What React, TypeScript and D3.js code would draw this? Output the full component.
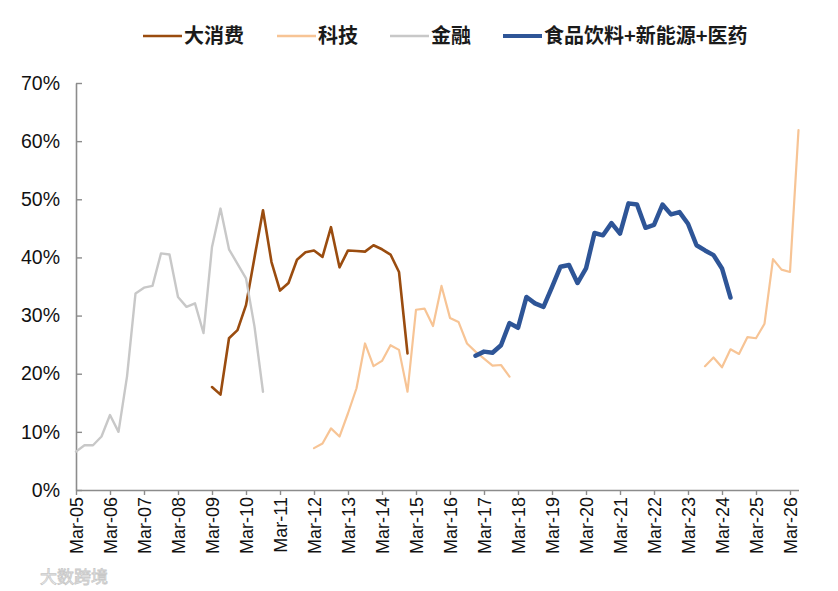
import { useEffect, useRef } from "react";
import * as d3 from "d3";

// quarterly index: 0 = Mar-05
const xTickLabels = [
  "Mar-05", "Mar-06", "Mar-07", "Mar-08", "Mar-09", "Mar-10", "Mar-11", "Mar-12",
  "Mar-13", "Mar-14", "Mar-15", "Mar-16", "Mar-17", "Mar-18", "Mar-19", "Mar-20",
  "Mar-21", "Mar-22", "Mar-23", "Mar-24", "Mar-25", "Mar-26",
];
const yTicks = [0, 10, 20, 30, 40, 50, 60, 70];

const consumerStart = 16;
const consumer = [
  17.7, 16.4, 26.1, 27.5, 31.8, 40.0, 48.1, 39.2, 34.3, 35.6, 39.6, 40.9, 41.2, 40.1, 45.2, 38.3,
  41.2, 41.1, 41.0, 42.1, 41.4, 40.5, 37.5, 23.5,
];

const techStartA = 28;
const techA = [
  7.2, 8.0, 10.6, 9.2, 13.2, 17.5, 25.2, 21.3, 22.2, 24.9, 24.1, 16.9, 31.0, 31.2, 28.2, 35.1,
  29.6, 28.9, 25.2, 23.8, 22.6, 21.4, 21.5, 19.5,
];
const techStartB = 74;
const techB = [21.3, 22.8, 21.1, 24.2, 23.4, 26.3, 26.1, 28.6, 39.7, 37.9, 37.5, 61.9];

const financeStart = 0;
const finance = [
  6.6, 7.7, 7.7, 9.2, 12.9, 10.0, 19.5, 33.8, 34.8, 35.1, 40.7, 40.5, 33.2, 31.5, 32.1, 27.0,
  41.8, 48.4, 41.4, 38.9, 36.4, 28.1, 16.9,
];

const comboStart = 47;
const combo = [
  23.1, 23.8, 23.6, 24.9, 28.7, 27.9, 33.2, 32.1, 31.5, 34.9, 38.4, 38.7, 35.6, 38.1, 44.2, 43.8,
  45.9, 44.1, 49.3, 49.1, 45.1, 45.6, 49.1, 47.4, 47.8, 45.8, 42.1, 41.2, 40.4, 38.1, 33.1,
];

type Pt = { i: number; v: number };
const toPts = (start: number, vals: number[]): Pt[] => vals.map((v, k) => ({ i: start + k, v }));

const series = [
  { name: "大消费", color: "#9a4c0f", width: 2.6, segs: [toPts(consumerStart, consumer)] },
  { name: "科技", color: "#f7c495", width: 2.2, segs: [toPts(techStartA, techA), toPts(techStartB, techB)] },
  { name: "金融", color: "#c8c8c8", width: 2.4, segs: [toPts(financeStart, finance)] },
  { name: "食品饮料+新能源+医药", color: "#2e5597", width: 4.5, segs: [toPts(comboStart, combo)] },
];

const legendPos = [143, 277, 390, 503];

const App = () => {
  const svgRef = useRef<SVGSVGElement | null>(null);

  useEffect(() => {
    const svg = d3.select(svgRef.current);
    svg.selectAll("*").remove();

    const x = d3.scaleLinear().domain([0, 85]).range([76, 798.5]);
    const y = d3.scaleLinear().domain([0, 70]).range([490, 83]);
    const font = "Arial, 'Liberation Sans', sans-serif";

    // y axis
    const ya = svg
      .append("g")
      .attr("transform", `translate(${x(0)},0)`)
      .call(
        d3.axisLeft(y)
          .tickValues(yTicks)
          .tickSizeInner(-6)
          .tickSizeOuter(0)
          .tickPadding(16)
          .tickFormat((d) => `${d}%`)
      );
    ya.select(".domain").attr("stroke", "#8c8c8c").attr("stroke-width", 1.6);
    ya.selectAll(".tick line").attr("stroke", "#8c8c8c").attr("stroke-width", 1.4);
    ya.selectAll(".tick text")
      .attr("font-family", font)
      .attr("font-size", 19.5)
      .attr("fill", "#111");

    // x axis
    const xa = svg
      .append("g")
      .attr("transform", `translate(0,${y(0)})`)
      .call(
        d3.axisBottom(x)
          .tickValues(xTickLabels.map((_, k) => k * 4))
          .tickSizeInner(5)
          .tickSizeOuter(0)
          .tickPadding(6)
          .tickFormat((_, k) => xTickLabels[k])
      );
    xa.select(".domain").attr("stroke", "#8c8c8c").attr("stroke-width", 1.6);
    xa.selectAll(".tick line").attr("stroke", "#8c8c8c").attr("stroke-width", 1.4);
    xa.selectAll(".tick text")
      .attr("font-family", font)
      .attr("font-size", 18)
      .attr("fill", "#111")
      .attr("transform", "rotate(-90)")
      .attr("text-anchor", "end")
      .attr("dy", "0.35em")
      .attr("x", -7)
      .attr("y", 0);

    const line = d3
      .line<Pt>()
      .x((d) => x(d.i))
      .y((d) => y(d.v));

    series.forEach((s) => {
      s.segs.forEach((seg) => {
        svg
          .append("path")
          .datum(seg)
          .attr("fill", "none")
          .attr("stroke", s.color)
          .attr("stroke-width", s.width)
          .attr("stroke-linejoin", "round")
          .attr("stroke-linecap", "round")
          .attr("d", line);
      });
    });

    // legend
    series.forEach((s, k) => {
      const lg = svg.append("g").attr("transform", `translate(${legendPos[k]},36)`);
      lg.append("line")
        .attr("x1", 0)
        .attr("x2", 39)
        .attr("y1", 0)
        .attr("y2", 0)
        .attr("stroke", s.color)
        .attr("stroke-width", s.width === 4.5 ? 4 : 2.6);
      lg.append("text")
        .attr("x", 41)
        .attr("y", 0)
        .attr("dy", "0.36em")
        .attr("font-family", "'Noto Sans CJK SC', sans-serif")
        .attr("font-weight", 700)
        .attr("font-size", 20)
        .attr("fill", "#1a1a1a")
        .text(s.name);
    });

    // watermark
    svg.append("text")
      .attr("x", 40)
      .attr("y", 583)
      .attr("font-family", "'Noto Sans CJK SC', sans-serif")
      .attr("font-size", 17)
      .attr("fill", "#f2f2f2")
      .attr("stroke", "#c8c8c8")
      .attr("stroke-width", 0.8)
      .text("大数跨境");
  }, []);

  return (
    <div style={{ position: "absolute", left: 0, top: 0 }}>
      <svg ref={svgRef} width={838} height={591} style={{ display: "block", background: "#fff" }} />
    </div>
  );
};

export default App;
